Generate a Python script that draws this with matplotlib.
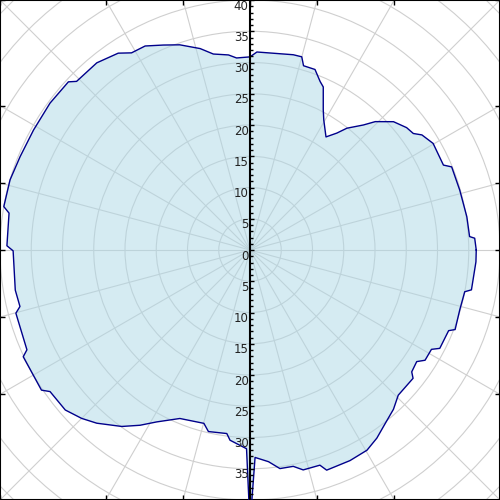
import numpy as np
import matplotlib
matplotlib.use("Agg")
import matplotlib.pyplot as plt
from matplotlib.patches import Circle

# angle (deg, ccw from east) and radius
theta_deg = [0, 3.0, 3.5, 8.7, 15.9, 22.4, 23.7, 30.2, 33.8, 35.5, 38, 41.8,
             45.7, 47.8, 51.5, 53.4, 56.1, 60.4, 62.4, 65.8, 67.4, 70.2, 73.8,
             75, 77.5, 88, 90, 94, 96.3, 100.6, 103.9, 108.9, 112.9, 117.2,
             121, 123.8, 129.3, 135.8, 137.2, 143.7, 151, 157.9, 163.7, 170,
             171.3, 179, 180.2, 189.7, 193.8, 195.1, 204.1, 205.2, 213.9,
             215.3, 220.9, 225, 228.5, 234, 237.9, 241.5, 247.4, 255.1, 257.1,
             262.8, 264, 269, 270, 271.4, 275, 277.8, 281.3, 283.6, 288, 289.2,
             295.4, 300.3, 304, 307.9, 312, 315.6, 321.8, 323, 326.2, 327.8,
             331.3, 332.6, 337.9, 338.8, 344.1, 349, 349.8, 357]
radius = [36.2, 36.0, 35.2, 35.1, 34.9, 34.9, 33.8, 33.9, 33.1, 32.1, 31.8, 30.8,
          28.7, 27.0, 24.9, 23.3, 21.8, 23.9, 25.3, 28.6, 29.2, 30.7, 30.7,
          32.0, 32.0, 31.7, 30.9, 30.8, 31.4, 31.9, 33.2, 34.7, 35.6, 36.7,
          36.8, 37.9, 38.7, 38.7, 39.6, 39.7, 39.6, 39.7, 40.0, 40.0,
          39.0, 38.9, 37.9, 38.1, 37.9, 38.8, 39.1, 40.1, 40.2,
          39.2, 39.1, 38.1, 37.0, 34.9, 33.1, 31.3, 29.2, 28.7, 29.8,
          29.6, 30.6, 31.8, 44.0, 33.2, 34.0, 35.3, 35.3, 36.2, 36.2, 37.3,
          37.3, 37.1, 36.3, 35.2, 34.3, 33.2, 33.2, 32.4, 32.1, 33.1,
          33.1, 34.2, 34.3, 35.2, 34.9, 35.0, 36.0, 36.2]

r_ticks = list(range(-40, 41, 5))
r_labels = list(range(-35, 41, 5))  # bottom 40 falls outside the picture
r_minor = [v for v in range(-40, 41) if v % 5 != 0]
grid_r = list(range(5, 60, 5))
grid_deg = list(range(0, 360, 15))
edge_deg = [45, 60, 75, 90, 105, 120, 135]

fig = plt.figure(figsize=(5, 5), dpi=100)
ax = fig.add_axes([0, 0, 1, 1])
ax.set_xlim(-40, 40)
ax.set_ylim(-40, 40)

# grid
for g in grid_r:
    ax.add_patch(Circle((0, 0), g, fill=False, ec="#cfcfcf", lw=0.8, zorder=1))
for a in grid_deg:
    t = np.radians(a)
    ax.plot([0, 60*np.cos(t)], [0, 60*np.sin(t)], color="#cfcfcf", lw=0.8, zorder=1)

# data
th = np.radians(theta_deg)
r = np.array(radius)
x = r*np.cos(th)
y = r*np.sin(th)
ax.fill(x, y, color="lightblue", alpha=0.5, lw=0, zorder=2)
ax.plot(np.append(x, x[0]), np.append(y, y[0]), color="darkblue", lw=1, zorder=3)

# radial axis along the vertical
ax.axvline(0, color="black", lw=1.5, zorder=4)
ax.plot(np.zeros(len(r_ticks)), r_ticks, ls="none", marker=1, ms=3, mew=1, color="black", zorder=4)
ax.plot(np.zeros(len(r_minor)), r_minor, ls="none", marker=1, ms=2, mew=1, color="black", zorder=4)
for v in r_labels:
    ax.annotate(str(abs(v)), xy=(0, v), xytext=(-1, 0.3), textcoords="offset points",
                ha="right", va="top", fontsize=8.5, color="#222222", zorder=5)

# frame ticks where the rays meet the border
pos = [40/np.tan(np.radians(a)) if a != 90 else 0 for a in edge_deg]
ax.set_xticks(pos)
ax.set_yticks(pos)
ax.tick_params(direction="in", length=3.5, width=1, top=True, right=True,
               labelleft=False, labelbottom=False)
for s in ax.spines.values():
    s.set_linewidth(1.5)

fig.savefig("out.png", dpi=100)
